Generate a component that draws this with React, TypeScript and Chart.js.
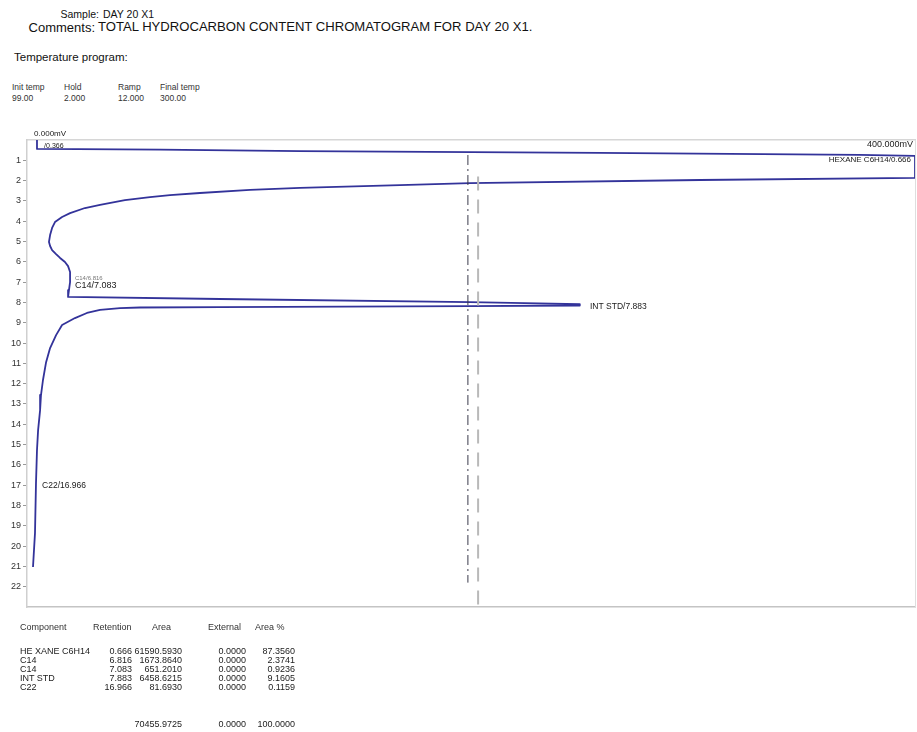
import React, { useEffect, useRef } from "react";
import { Chart, registerables } from "chart.js";

Chart.register(...registerables);

// ---- data (signal in mV, time in minutes) ----
const traceSignal = [
  4.5, 4.5, 60, 123, 258, 375, 400,
  400, 303.2, 199.5, 168.0, 123.0, 100.5, 77.9, 64.4, 55.4, 44.1, 32.9, 26.1,
  19.4, 15.8, 12.6, 11.3, 10.4, 9.9, 10.4, 11.3, 13.1, 14.9, 17.1, 18.5, 19.4,
  19.4, 18.9, 18.5,
  86.9, 199.5, 249, 249, 199.5, 86.9, 50.9, 41.9,
  32.9, 27.0, 21.6, 15.8, 13.1, 10.4, 8.6, 7.2, 6.3, 5.9, 5.0, 4.5, 4.05, 3.6,
  2.7,
];
const traceTime = [
  0, 0.44, 0.47, 0.55, 0.63, 0.73, 0.78,
  1.87, 1.97, 2.12, 2.22, 2.36, 2.46, 2.61, 2.71, 2.81, 2.96, 3.2, 3.35,
  3.6, 3.79, 4.04, 4.33, 4.68, 5.02, 5.22, 5.42, 5.62, 5.81, 6.01, 6.21, 6.5,
  7.0, 7.39, 7.73,
  7.83, 7.98, 8.08, 8.15, 8.18, 8.23, 8.25, 8.28,
  8.37, 8.52, 8.77, 9.11, 9.61, 10.25, 10.94, 11.82, 12.56, 13.3, 14.29, 15.27,
  16.9, 19.36, 21.03,
];

const eventMarkSignal = [198.6, 198.6];
const eventMarkTime = [0.74, 21.8];
const windowMarkSignal = [203.2, 203.2];
const windowMarkTime = [1.8, 22.9];

const peakLabels = [
  "0.000mV",
  "/0.366",
  "400.000mV",
  "HEXANE C6H14/0.666",
  "C14/6.816",
  "C14/7.083",
  "INT STD/7.883",
  "C22/16.966",
];
const peakLabelSignal = [3.2, 7.7, 399.1, 398.2, 21.6, 21.6, 253.6, 6.8];
const peakLabelTime = [-0.3, 0.3, 0.2, 0.99, 6.8, 7.19, 8.23, 17.0];
const peakLabelAlign = ["left", "left", "right", "right", "left", "left", "left", "left"];
const peakLabelSize = [8, 7, 9, 8, 6, 9, 8.5, 8.5];

const timeTicks = [1, 2, 3, 4, 5, 6, 7, 8, 9, 10, 11, 12, 13, 14, 15, 16, 17, 18, 19, 20, 21, 22];

const tempHeaders = ["Init temp", "Hold", "Ramp", "Final temp"];
const tempValues = ["99.00", "2.000", "12.000", "300.00"];

const components = ["HE XANE C6H14", "C14", "C14", "INT STD", "C22"];
const retentions = ["0.666", "6.816", "7.083", "7.883", "16.966"];
const areas = ["61590.5930", "1673.8640", "651.2010", "6458.6215", "81.6930"];
const externals = ["0.0000", "0.0000", "0.0000", "0.0000", "0.0000"];
const areaPercents = ["87.3560", "2.3741", "0.9236", "9.1605", "0.1159"];
const totalArea = "70455.9725";
const totalExternal = "0.0000";
const totalPercent = "100.0000";

const FONT = '"Liberation Sans", Arial, sans-serif';

const labelPlugin = {
  id: "peakLabels",
  afterDatasetsDraw(chart: any) {
    const { ctx, scales } = chart;
    ctx.save();
    ctx.textBaseline = "middle";
    peakLabels.forEach((t, i) => {
      const px = scales.x.getPixelForValue(peakLabelSignal[i]);
      const py = scales.y.getPixelForValue(peakLabelTime[i]);
      ctx.font = `${peakLabelSize[i]}px ${FONT}`;
      ctx.textAlign = peakLabelAlign[i];
      ctx.fillStyle = i === 4 ? "#777" : "#1a1a1a";
      ctx.fillText(t, px, py);
    });
    ctx.restore();
  },
};

function Txt(props: { x: number; y: number; s: number; t: string; right?: boolean; c?: string }) {
  const style: any = {
    position: "absolute",
    top: props.y - props.s / 2,
    fontSize: props.s,
    lineHeight: `${props.s}px`,
    whiteSpace: "nowrap",
    color: props.c || "#111",
  };
  if (props.right) {
    style.right = 917 - props.x;
  } else {
    style.left = props.x;
  }
  return <div style={style}>{props.t}</div>;
}

export default function App() {
  const ref = useRef<HTMLCanvasElement | null>(null);

  useEffect(() => {
    if (!ref.current) return;
    const zip = (xs: number[], ys: number[]) => xs.map((x, i) => ({ x, y: ys[i] }));
    const chart = new Chart(ref.current, {
      type: "scatter",
      data: {
        datasets: [
          {
            data: zip(windowMarkSignal, windowMarkTime),
            showLine: true,
            borderColor: "#b9b9b9",
            borderWidth: 2,
            borderDash: [14, 9],
            pointRadius: 0,
          },
          {
            data: zip(eventMarkSignal, eventMarkTime),
            showLine: true,
            borderColor: "#3a3a4a",
            borderWidth: 1,
            borderDash: [10, 4, 2, 4],
            pointRadius: 0,
          },
          {
            data: zip(traceSignal, traceTime),
            showLine: true,
            borderColor: "#33339a",
            borderWidth: 1.8,
            borderJoinStyle: "round",
            pointRadius: 0,
            tension: 0,
          },
        ],
      },
      options: {
        animation: false,
        responsive: true,
        maintainAspectRatio: false,
        layout: { padding: { top: 140, bottom: 125, left: 0, right: 2 } },
        plugins: { legend: { display: false }, tooltip: { enabled: false } },
        scales: {
          x: {
            type: "linear",
            min: 0,
            max: 400,
            position: "bottom",
            ticks: { display: false },
            grid: { display: false },
            border: { display: true, color: "#c4c4c4", width: 1.5 },
            afterFit: (s: any) => {
              s.height = 0;
            },
          },
          x2: {
            type: "linear",
            min: 0,
            max: 400,
            position: "top",
            ticks: { display: false },
            grid: { display: false },
            border: { display: true, color: "#d6d6d6", width: 1.5 },
            afterFit: (s: any) => {
              s.height = 0;
            },
          },
          y: {
            type: "linear",
            min: 0,
            max: 23,
            reverse: true,
            afterBuildTicks: (s: any) => {
              s.ticks = timeTicks.map((v) => ({ value: v }));
            },
            ticks: {
              color: "#333",
              font: { family: FONT, size: 9 },
              padding: 2,
              callback: (v: any) => String(v),
            },
            grid: { drawOnChartArea: false, tickLength: 4, color: "#999" },
            border: { display: true, color: "#cfcfcf", width: 1.5 },
            afterFit: (s: any) => {
              s.width = 27;
            },
          },
          y2: {
            type: "linear",
            min: 0,
            max: 23,
            reverse: true,
            position: "right",
            ticks: { display: false },
            grid: { display: false },
            border: { display: true, color: "#dedede", width: 1 },
            afterFit: (s: any) => {
              s.width = 0;
            },
          },
        },
      },
      plugins: [labelPlugin],
    } as any);
    return () => chart.destroy();
  }, []);

  const tempX = [12, 64, 118, 160];
  const rowY = [651, 660, 669, 678, 687];
  const ts = 9;

  return (
    <div
      style={{
        position: "fixed",
        left: 0,
        top: 0,
        width: 917,
        height: 732,
        background: "#fff",
        fontFamily: FONT,
        overflow: "hidden",
      }}
    >
      <Txt x={99} y={14} s={10.5} t="Sample:" right />
      <Txt x={103} y={14} s={10.5} t="DAY 20 X1" />
      <Txt x={95} y={27} s={13} t="Comments:" right />
      <Txt x={98} y={27} s={13.1} t="TOTAL HYDROCARBON CONTENT CHROMATOGRAM FOR DAY 20 X1." />
      <Txt x={14} y={58} s={11.5} t="Temperature program:" />
      {tempHeaders.map((h, i) => (
        <Txt key={"th" + i} x={tempX[i]} y={87} s={8.5} t={h} c="#333" />
      ))}
      {tempValues.map((h, i) => (
        <Txt key={"tv" + i} x={tempX[i]} y={98} s={8.5} t={h} c="#333" />
      ))}

      <div style={{ position: "absolute", left: 0, top: 0, width: 917, height: 732 }}>
        <canvas ref={ref} />
      </div>

      <Txt x={20} y={627} s={ts} t="Component" c="#333" />
      <Txt x={93} y={627} s={ts} t="Retention" c="#333" />
      <Txt x={152} y={627} s={ts} t="Area" c="#333" />
      <Txt x={208} y={627} s={ts} t="External" c="#333" />
      <Txt x={255} y={627} s={ts} t="Area %" c="#333" />
      {components.map((c, i) => (
        <React.Fragment key={"r" + i}>
          <Txt x={20} y={rowY[i]} s={ts} t={c} c="#222" />
          <Txt x={132} y={rowY[i]} s={ts} t={retentions[i]} right c="#222" />
          <Txt x={182} y={rowY[i]} s={ts} t={areas[i]} right c="#222" />
          <Txt x={246} y={rowY[i]} s={ts} t={externals[i]} right c="#222" />
          <Txt x={295} y={rowY[i]} s={ts} t={areaPercents[i]} right c="#222" />
        </React.Fragment>
      ))}
      <Txt x={182} y={724} s={ts} t={totalArea} right c="#222" />
      <Txt x={246} y={724} s={ts} t={totalExternal} right c="#222" />
      <Txt x={295} y={724} s={ts} t={totalPercent} right c="#222" />
    </div>
  );
}
